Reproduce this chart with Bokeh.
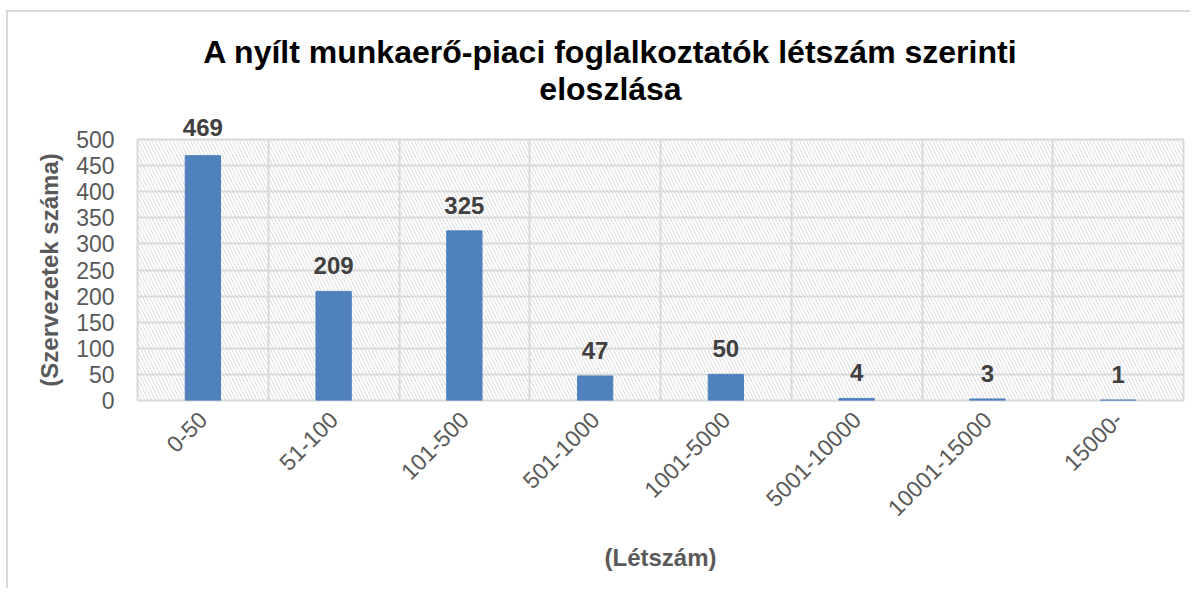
import math
from bokeh.plotting import figure
from bokeh.models import (FactorRange, Range1d, FixedTicker, BoxAnnotation, Label,
                          LabelSet, ColumnDataSource)
from bokeh.core.properties import value
from bokeh.embed import file_html
from bokeh.resources import INLINE

categories = ["0-50", "51-100", "101-500", "501-1000", "1001-5000",
              "5001-10000", "10001-15000", "15000-"]
counts = [469, 209, 325, 47, 50, 4, 3, 1]
y_ticks = [0, 50, 100, 150, 200, 250, 300, 350, 400, 450, 500]
title_lines = ["A nyílt munkaerő-piaci foglalkoztatók létszám szerinti", "eloszlása"]
x_title = "(Létszám)"
y_title = "(Szervezetek száma)"

FONT = "Liberation Sans"
GRID = "#d9d9d9"
TXT = "#595959"
Y_MAX = y_ticks[-1]

p = figure(width=1184, height=578,
           x_range=FactorRange(*categories), y_range=Range1d(0, Y_MAX),
           output_backend="svg", toolbar_location=None,
           min_border_left=129, min_border_right=9,
           min_border_top=127, min_border_bottom=190)
p.styles = {"margin-left": "6px", "margin-top": "10px",
            "border-top": "2px solid #d9d9d9", "border-left": "2px solid #d9d9d9"}
p.background_fill_color = "white"
p.border_fill_color = "white"
p.outline_line_color = GRID
p.outline_line_width = 2

# hatched plot area background
hatch = BoxAnnotation(fill_color=None, line_color=None, hatch_pattern="\\",
                      hatch_color="#dadada", hatch_scale=7, hatch_weight=1,
                      level="underlay")
p.add_layout(hatch)

# grids
p.xgrid.ticker = FixedTicker(ticks=list(range(len(categories) + 1)))
p.ygrid.ticker = FixedTicker(ticks=y_ticks)
for g in (p.xgrid[0], p.ygrid[0]):
    g.grid_line_color = GRID
    g.grid_line_width = 2

src = ColumnDataSource(dict(cat=categories, n=counts))
p.vbar(x="cat", top="n", width=0.27, source=src,
       fill_color="#4F81BD", line_color="#4F81BD")

# data labels; those that would stick out above the plot area go to the top panel
outside = [n > 0.86 * Y_MAX for n in counts]
inside_src = ColumnDataSource(dict(
    cat=[c for c, o in zip(categories, outside) if not o],
    n=[n for n, o in zip(counts, outside) if not o],
    lab=[str(n) for n, o in zip(counts, outside) if not o]))
p.add_layout(LabelSet(x="cat", y="n", text="lab", source=inside_src,
                      text_align="center", text_baseline="alphabetic", y_offset=17,
                      text_font=value(FONT), text_font_size=value("24px"),
                      text_font_style=value("bold"), text_color=value("#404040")))
for i, (n, o) in enumerate(zip(counts, outside)):
    if o:
        p.add_layout(Label(x=i + 0.5, y=n, text=str(n),
                           text_align="center", text_baseline="alphabetic", y_offset=28,
                           text_font=FONT, text_font_size="24px", text_font_style="bold",
                           text_color="#404040"), "above")

# axes
for ax in (p.xaxis[0], p.yaxis[0]):
    ax.axis_line_color = None
    ax.major_tick_in = 0
    ax.major_tick_out = 0
    ax.minor_tick_in = 0
    ax.minor_tick_out = 0
    ax.major_label_text_font = FONT
    ax.major_label_text_font_size = "23px"
    ax.major_label_text_color = TXT
    ax.axis_label_text_font = FONT
    ax.axis_label_text_font_size = "24px"
    ax.axis_label_text_font_style = "bold"
    ax.axis_label_text_color = TXT

p.yaxis.ticker = FixedTicker(ticks=y_ticks)
p.yaxis.major_label_standoff = 23
p.yaxis.axis_label = y_title
p.yaxis.axis_label_standoff = 10

p.xaxis.major_label_orientation = math.pi / 4
p.xaxis.major_label_standoff = 15
p.xaxis.axis_label = x_title
p.xaxis.axis_label_standoff = 18

# title (two lines)
for line, off in ((title_lines[0], 88), (title_lines[1], 51)):
    p.add_layout(Label(x=len(categories) / 2, y=Y_MAX, x_offset=-50, y_offset=off, text=line,
                       text_align="center", text_baseline="alphabetic",
                       text_font=FONT, text_font_size="32px", text_font_style="bold",
                       text_color="black"), "above")

open("out.html", "w").write(file_html(p, INLINE))
